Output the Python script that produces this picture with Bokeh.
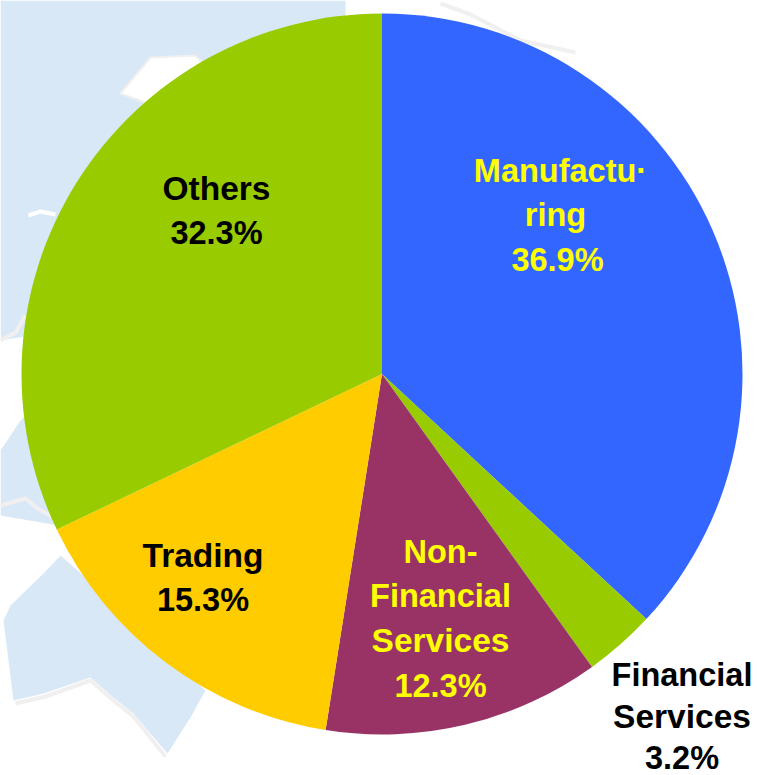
from bokeh.plotting import figure
from bokeh.embed import file_html
from bokeh.resources import INLINE
from bokeh.models import ColumnDataSource, Range1d
from bokeh.core.properties import value
import math

categories = ["Manufacturing", "Financial Services", "Non-Financial Services", "Trading", "Others"]
shares = [36.9, 3.2, 12.4, 15.4, 32.1]
slice_colors = ["#3366ff", "#99cc00", "#993366", "#ffcc00", "#99cc00"]

label_lines = [
    ["Manufactu\u00b7", "ring", "36.9%"],
    ["Financial", "Services", "3.2%"],
    ["Non-", "Financial", "Services", "12.3%"],
    ["Trading", "15.3%"],
    ["Others", "32.3%"],
]
label_colors = ["#ffff00", "#000000", "#ffff00", "#000000", "#000000"]
label_x = [175.5, 300, 58.5, -179, -165.5]
label_line_dx = [[3, -2, 0], [0, 0, 0], [0, 0, 0, 0], [0, 0], [0, 0]]
label_first_base = [181, 685, 562, 566, 199]
label_steps = [44.5, 41.5, 44.7, 44.3, 44]
label_sizes = [["32.5px", "32.5px", "32.5px"],
               ["32.5px", "33.5px", "32.5px"],
               ["32.5px", "32.5px", "33.5px", "32.5px"],
               ["33.5px", "32.5px"],
               ["33.5px", "32.5px"]]

# faint map behind the pie: outlines in picture pixels
land_blue = "#d9e8f7"
land_a_x = [0, 345, 345, 240, 190, 120, 60, 30, 0]
land_a_y = [0, 0, 20, 60, 90, 200, 310, 335, 340]
land_b_x = [60, 43, 10, 3, 13, 43, 90, 113, 133, 167, 190, 205, 150, 100]
land_b_y = [555, 573, 605, 620, 700, 693, 677, 697, 713, 753, 717, 690, 640, 590]
land_c_x = [0, 20, 25, 45, 58, 0]
land_c_y = [450, 420, 415, 490, 525, 515]
white_patch_x = [120, 150, 195, 205, 145]
white_patch_y = [93, 57, 55, 65, 102]
white_streak_x = [28, 40, 55]
white_streak_y = [215, 211, 214]
coast_1_x = [440, 470, 520, 575]
coast_1_y = [3, 14, 40, 52]
coast_2_x = [0, 25, 40, 60, 58]
coast_2_y = [505, 498, 510, 520, 530]
coast_3_x = [15, 45, 90, 113, 133, 165]
coast_3_y = [703, 696, 680, 700, 716, 756]
coast_4_x = [0, 15, 25]
coast_4_y = [340, 332, 315]
coast_colour = "#f1eff0"

CX, CY, R = 381.5, 373.5, 360.5
W, H = 757, 775

p = figure(width=W, height=H, output_backend="svg", toolbar_location=None,
           x_range=Range1d(-CX, W - CX), y_range=Range1d(CY - H, CY),
           min_border=0, outline_line_color=None, background_fill_color="#ffffff",
           border_fill_color="#ffffff")
p.axis.visible = False
p.grid.visible = False

def sx(v): return [x - CX for x in v]
def sy(v): return [CY - y for y in v]

p.patch(sx(land_a_x), sy(land_a_y), fill_color=land_blue, line_color=None)
p.patch(sx(land_b_x), sy(land_b_y), fill_color=land_blue, line_color=None)
p.patch(sx(land_c_x), sy(land_c_y), fill_color=land_blue, line_color=None)
p.patch(sx(white_patch_x), sy(white_patch_y), fill_color="#ffffff", line_color=coast_colour, line_width=2)
p.line(sx(white_streak_x), sy(white_streak_y), line_color="#ffffff", line_width=4)
for lx_, ly_ in [(coast_1_x, coast_1_y), (coast_2_x, coast_2_y), (coast_3_x, coast_3_y), (coast_4_x, coast_4_y)]:
    p.line(sx(lx_), sy(ly_), line_color=coast_colour, line_width=4)

total = sum(shares)
starts, ends = [], []
acc = 0.0
for s in shares:
    starts.append(math.pi / 2 - 2 * math.pi * (acc + s) / total)
    ends.append(math.pi / 2 - 2 * math.pi * acc / total)
    acc += s

src = ColumnDataSource(dict(start=starts, end=ends, color=slice_colors, cat=categories))
p.wedge(x=0, y=0, radius=R, start_angle="start", end_angle="end",
        fill_color="color", line_color=None, source=src)

# Bokeh draws alphabetic text about 11 px below the given y in this setup
BASE_SHIFT = 11
tx, ty, tt, tc, ts = [], [], [], [], []
for lines, lx, dxs, base, step, col, sizes in zip(label_lines, label_x, label_line_dx, label_first_base,
                                                  label_steps, label_colors, label_sizes):
    for i, t in enumerate(lines):
        tx.append(lx + dxs[i])
        ty.append(CY + BASE_SHIFT - (base + i * step))
        tt.append(t)
        tc.append(col)
        ts.append(sizes[i])
tsrc = ColumnDataSource(dict(x=tx, y=ty, text=tt, color=tc, size=ts))
p.text(x="x", y="y", text="text", text_color="color", text_font=value("Liberation Sans"),
       text_font_style="bold", text_font_size="size", text_align="center",
       text_baseline="alphabetic", source=tsrc)

open("out.html", "w").write(file_html(p, INLINE))
